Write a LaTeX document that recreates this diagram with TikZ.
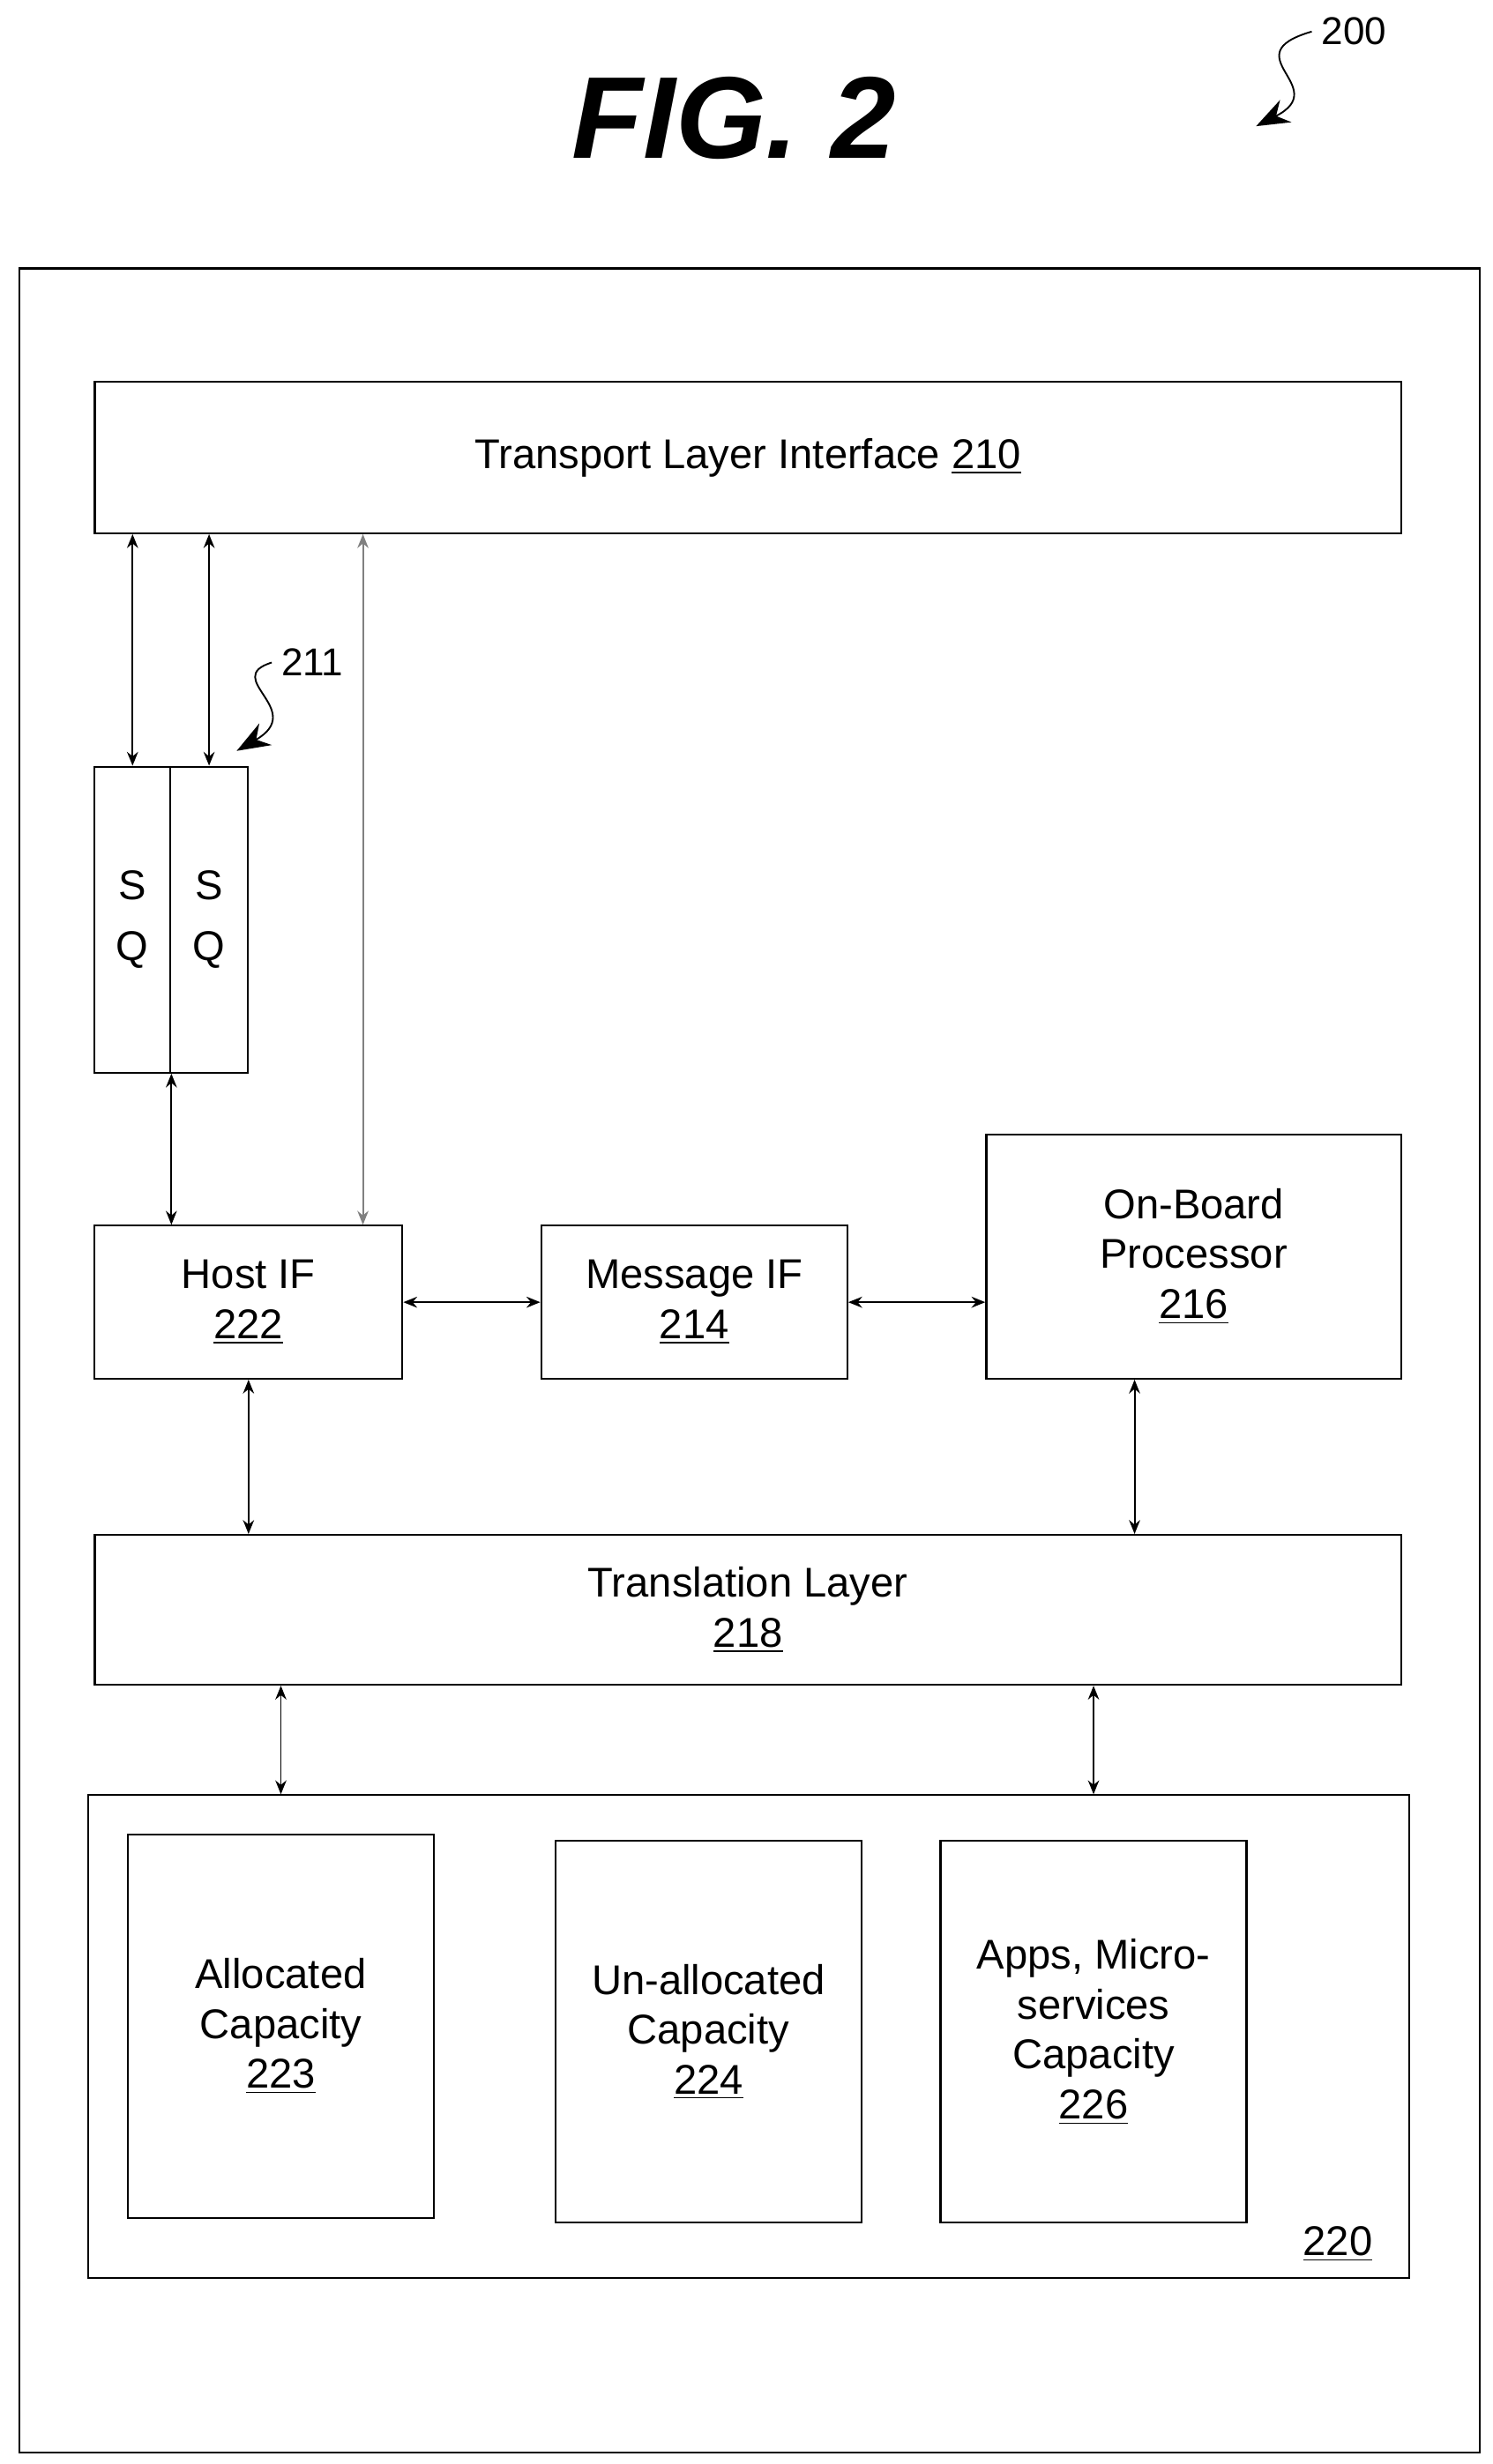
\documentclass[tikz,border=0pt]{standalone}
\usepackage{fontspec}
\setmainfont{Liberation Sans}
\usetikzlibrary{arrows.meta}

\tikzset{
  box/.style={draw, line width=0.7pt, inner sep=0pt, align=center, font=\fontsize{15}{18}\selectfont},
  arr/.style={{Stealth[length=5pt,width=4pt]}-{Stealth[length=5pt,width=4pt]}, line width=0.6pt},
  ref/.style={-{Stealth[length=12pt,width=9pt]}, line width=0.6pt},
}

\begin{document}
\begin{tikzpicture}[x=0.02cm, y=-0.02cm]
        \useasboundingbox (0,0) rectangle (946,1562);
        \node[font=\bfseries\itshape\fontsize{42}{48}\selectfont] (title) at (465,75) {FIG. 2};
        \node[font=\fontsize{14}{16}\selectfont] (n200) at (858,20) {200};
        \coordinate (t200) at (796,80);
        \draw[ref] (n200.west) .. controls (780,35) and (845,55) .. (t200);

        % outer frame
        \node[box, minimum width=18.52cm, minimum height=27.7cm] (frame) at (475,862.5) {};

        \node[box, minimum width=16.56cm, minimum height=1.92cm] (tli) at (474,290) {Transport Layer Interface \underline{210}};
        \node[box, minimum width=0.96cm, minimum height=3.88cm] (sql) at (84,583) {S\\[4pt]Q};
        \node[box, minimum width=0.98cm, minimum height=3.88cm] (sqr) at (132.5,583) {S\\[4pt]Q};
        \node[font=\fontsize{14}{16}\selectfont] (n211) at (198,420) {211};
        \coordinate (t211) at (150,476);
        \draw[ref] (n211.west) .. controls (140,430) and (195,450) .. (t211);

        \node[box, minimum width=3.9cm, minimum height=1.94cm] (host) at (157.5,825.5) {Host IF\\\underline{222}};
        \node[box, minimum width=3.88cm, minimum height=1.94cm] (msg) at (440,825.5) {Message IF\\\underline{214}};
        \node[box, minimum width=5.26cm, minimum height=3.1cm] (obp) at (756.5,796.5) {On-Board\\Processor\\\underline{216}};
        \node[box, minimum width=16.56cm, minimum height=1.9cm] (trans) at (474,1020.5) {Translation Layer\\\underline{218}};

        % storage
        \node[box, minimum width=16.74cm, minimum height=6.12cm] (stor) at (474.5,1291) {};
        \node[font=\fontsize{15}{18}\selectfont, anchor=south east] (n220) at (876,1440) {\underline{220}};
        \node[box, minimum width=3.88cm, minimum height=4.86cm] (alloc) at (178,1284.5) {Allocated\\Capacity\\\underline{223}};
        \node[box, minimum width=3.88cm, minimum height=4.84cm] (unalloc) at (449,1288) {Un-allocated\\Capacity\\\underline{224}};
        \node[box, minimum width=3.88cm, minimum height=4.84cm] (apps) at (693,1288) {Apps, Micro-\\services\\Capacity\\\underline{226}};

        % connectors
        \draw[arr] (tli.south -| sql.center) -- (sql.north);
        \draw[arr] (tli.south -| sqr.center) -- (sqr.north);
        \draw[arr, draw=gray] (tli.south -| 230,0) -- (host.north -| 230,0);
        \draw[arr] (sql.south east) -- (host.north -| sql.south east);
        \draw[arr] (host.east) -- (msg.west);
        \draw[arr] (msg.east) -- (obp.west |- msg.east);
        \draw[arr] (host.south) -- (trans.north -| host.south);
        \draw[arr] (obp.south -| 719,0) -- (trans.north -| 719,0);
        \draw[arr] (trans.south -| alloc.center) -- (stor.north -| alloc.center);
        \draw[arr] (trans.south -| apps.center) -- (stor.north -| apps.center);
\end{tikzpicture}
\end{document}
